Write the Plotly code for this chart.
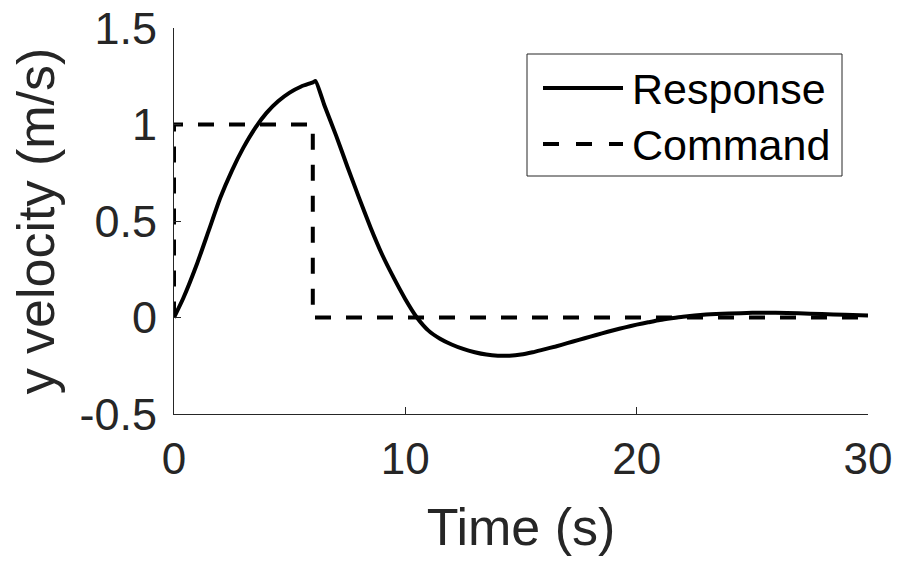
import plotly.graph_objects as go

# Closed-loop lateral velocity: simulated response vs. commanded pulse
time_s = [0.0, 0.4, 1.0, 1.5, 2.0, 2.5, 3.0, 3.5, 4.0, 4.5, 5.0, 5.5, 6.0, 6.12,
          6.5, 7.0, 7.5, 8.0, 8.5, 9.0, 9.5, 10.0, 10.5, 11.0, 11.5, 12.0, 12.5,
          13.0, 13.5, 14.0, 14.5, 15.0, 15.5, 16.0, 16.5, 17.0, 17.5, 18.0, 18.5,
          19.0, 19.5, 20.0, 20.5, 21.0, 21.5, 22.0, 23.0, 24.0, 25.0, 26.0, 27.0,
          28.0, 29.0, 30.0]
response = [0.0, 0.10, 0.28, 0.45, 0.62, 0.76, 0.88, 0.98, 1.06, 1.12, 1.165, 1.197, 1.218, 1.225,
            1.10, 0.945, 0.78, 0.62, 0.465, 0.325, 0.205, 0.095, 0.0, -0.068, -0.11, -0.14, -0.163,
            -0.18, -0.192, -0.198, -0.198, -0.192, -0.18, -0.165, -0.15, -0.133, -0.116, -0.099, -0.082,
            -0.066, -0.051, -0.037, -0.025, -0.013, -0.004, 0.004, 0.015, 0.021, 0.024, 0.024, 0.022,
            0.018, 0.014, 0.010]

cmd_time = [0, 0, 6, 6, 30]
command = [0, 1, 1, 0, 0]

x_ticks = [0, 10, 20, 30]
y_ticks = [-0.5, 0, 0.5, 1, 1.5]
y_tick_text = ["-0.5", "0", "0.5", "1", "1.5"]

series_names = ["Response", "Command"]

FONT = "Liberation Sans, Arial, Helvetica, sans-serif"
INK = "#262626"

W, H = 901, 563
L, R, T, B = 174, 33, 28, 149
PW, PH = W - L - R, H - T - B


def px(xp):
    return (xp - L) / PW


def py(yp):
    return (H - B - yp) / PH


fig = go.Figure()
fig.add_trace(go.Scatter(x=time_s, y=response, mode="lines", name=series_names[0],
                         line=dict(color="black", width=4, shape="spline", smoothing=0.5),
                         showlegend=False))
fig.add_trace(go.Scatter(x=cmd_time, y=command, mode="lines", name=series_names[1],
                         line=dict(color="black", width=4, dash="16px,15px"),
                         showlegend=False))

# legend box drawn in paper coordinates
shapes = [
    dict(type="rect", xref="paper", yref="paper", x0=px(527), x1=px(842), y0=py(176), y1=py(54),
         line=dict(color=INK, width=1), fillcolor="white", layer="above"),
    dict(type="line", xref="paper", yref="paper", x0=px(543), x1=px(623), y0=py(88), y1=py(88),
         line=dict(color="black", width=4), layer="above"),
    dict(type="line", xref="paper", yref="paper", x0=px(543), x1=px(623), y0=py(144), y1=py(144),
         line=dict(color="black", width=4, dash="16px,17px"), layer="above"),
]
annotations = [
    dict(xref="paper", yref="paper", x=px(630), y=py(89), text=series_names[0], showarrow=False,
         xanchor="left", yanchor="middle", font=dict(family=FONT, size=43, color="black")),
    dict(xref="paper", yref="paper", x=px(630), y=py(145), text=series_names[1], showarrow=False,
         xanchor="left", yanchor="middle", font=dict(family=FONT, size=43, color="black")),
]

fig.update_layout(
    width=W, height=H,
    margin=dict(l=L, r=R, t=T, b=B, pad=0),
    paper_bgcolor="white", plot_bgcolor="white",
    font=dict(family=FONT, color=INK),
    shapes=shapes, annotations=annotations,
    showlegend=False,
)
fig.update_xaxes(
    range=[0, 30], tickvals=x_ticks, ticks="inside", ticklen=7, tickcolor=INK, tickwidth=1,
    showline=True, linecolor=INK, linewidth=1, showgrid=False, zeroline=False,
    automargin=False,
    tickfont=dict(size=44, color=INK, family=FONT), ticklabelstandoff=6,
    title=dict(text="Time (s)", font=dict(size=52, color=INK, family=FONT), standoff=26),
)
fig.update_yaxes(
    range=[-0.5, 1.5], tickvals=y_ticks, ticktext=y_tick_text, ticks="inside", ticklen=7,
    tickcolor=INK, tickwidth=1, showline=True, linecolor=INK, linewidth=1,
    showgrid=False, zeroline=False, automargin=False,
    tickfont=dict(size=45, color=INK, family=FONT), ticklabelstandoff=7,
    title=dict(text="y velocity (m/s)", font=dict(size=52, color=INK, family=FONT), standoff=8),
)

fig.write_html("out.html")
